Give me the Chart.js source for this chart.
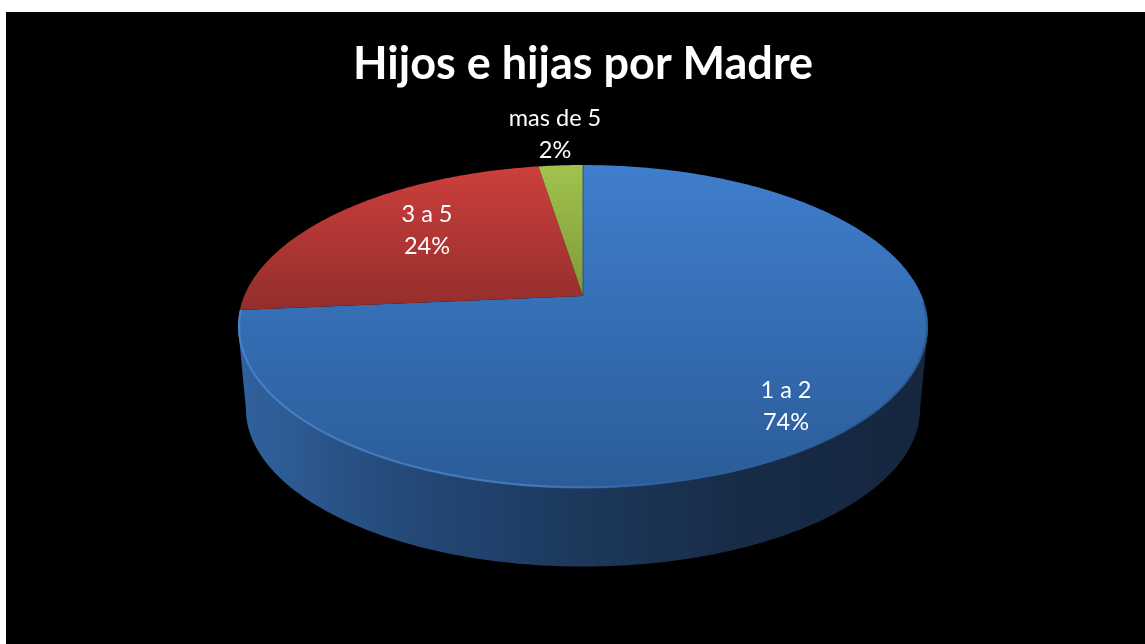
<!DOCTYPE html>
<html><head><meta charset="utf-8">
<style>html,body{margin:0;padding:0;background:#fff;overflow:hidden}
#wrap{position:absolute;left:6px;top:12px;width:1139px;height:632px;background:#000}</style>
<script src="https://cdn.jsdelivr.net/npm/chart.js@4"></script>
</head><body><div id="wrap"><canvas id="c" width="1139" height="632"></canvas></div>
<script>
const categories = ['1 a 2', '3 a 5', 'mas de 5'];
const values = [73.6, 23.91, 2.49];
const percentLabels = ['74%', '24%', '2%'];
const titleText = 'Hijos e hijas por Madre';
const topColors = ['#3f7ecc', '#cd3f3c', '#a0c34e'];
const bottomColors = ['#2b5c99', '#922e2c', '#7e993a'];
// label centres relative to the pie apex
const labelOffsets = [[203, 110], [-156, -66], [-28, -162]];

const TILT = 0.189, YRATIO = 155.7 / 338.8, DEPTH = 83, BOTTOM_SCALE = 0.977;
function project(arc, a, s, dy) {
  const w = 1 - TILT * Math.sin(a);
  return [arc.x + s * arc.outerRadius * Math.cos(a) / w,
          arc.y + dy + s * arc.outerRadius * YRATIO * Math.sin(a) / w];
}
function sectorPoints(arc, n) {
  const pts = [];
  for (let i = 0; i <= n; i++) {
    const a = arc.startAngle + (arc.endAngle - arc.startAngle) * i / n;
    pts.push(project(arc, a, 1, 0));
  }
  return pts;
}
const pseudo3d = {
  id: 'pseudo3d',
  beforeDatasetDraw(chart, args) {
    const ctx = chart.ctx, arcs = args.meta.data, first = arcs[0];
    const tan = Math.asin(TILT);
    const L = project(first, Math.PI - tan, 1, 0), R = project(first, tan, 1, 0);
    // side wall
    ctx.save();
    ctx.beginPath();
    for (let i = 0; i <= 200; i++) {
      const a = tan + (Math.PI - 2 * tan) * i / 200;
      const p = project(first, a, BOTTOM_SCALE, DEPTH);
      i ? ctx.lineTo(p[0], p[1]) : ctx.moveTo(p[0], p[1]);
    }
    ctx.lineTo(L[0], L[1]); ctx.lineTo(R[0], R[1]); ctx.closePath();
    const g = ctx.createLinearGradient(L[0], 0, R[0], 0);
    g.addColorStop(0, '#31619f'); g.addColorStop(0.08, '#2c5a92');
    g.addColorStop(0.2, '#264d7d'); g.addColorStop(0.38, '#1f4069');
    g.addColorStop(0.52, '#1b3759'); g.addColorStop(0.72, '#182c48');
    g.addColorStop(1, '#15263e');
    ctx.fillStyle = g; ctx.fill();
    // top faces
    arcs.forEach((arc, i) => {
      const n = Math.max(8, Math.ceil((arc.endAngle - arc.startAngle) * 80));
      const pts = sectorPoints(arc, n);
      const ys = pts.map(p => p[1]).concat(arc.y);
      const grad = ctx.createLinearGradient(0, Math.min(...ys), 0, Math.max(...ys));
      grad.addColorStop(0, topColors[i]); grad.addColorStop(1, bottomColors[i]);
      ctx.beginPath(); ctx.moveTo(arc.x, arc.y);
      pts.forEach(p => ctx.lineTo(p[0], p[1]));
      ctx.closePath(); ctx.fillStyle = grad; ctx.fill();
    });
    // thin divider on the top radial edge
    const e = project(first, first.startAngle, 1, 0);
    ctx.strokeStyle = 'rgba(30,70,120,0.8)'; ctx.lineWidth = 1;
    ctx.beginPath(); ctx.moveTo(first.x, first.y); ctx.lineTo(e[0], e[1]); ctx.stroke();
    // bevel highlight on the front rim
    const rim = ctx.createLinearGradient(L[0], 0, R[0], 0);
    rim.addColorStop(0, 'rgba(90,150,225,0.5)'); rim.addColorStop(0.45, 'rgba(90,150,225,0.5)');
    rim.addColorStop(0.65, 'rgba(70,120,190,0.12)'); rim.addColorStop(1, 'rgba(30,60,100,0.4)');
    ctx.strokeStyle = rim; ctx.lineWidth = 2.2; ctx.beginPath();
    for (let i = 0; i <= 200; i++) {
      const a = tan * 0.2 + (first.endAngle + 0 - tan * 0.2) * i / 200;
      const p = project(first, a, 0.997, 0);
      i ? ctx.lineTo(p[0], p[1]) : ctx.moveTo(p[0], p[1]);
    }
    ctx.stroke();
    ctx.restore();
    return false;
  },
  afterDatasetsDraw(chart) {
    const ctx = chart.ctx, arcs = chart.getDatasetMeta(0).data;
    ctx.save();
    ctx.fillStyle = '#fff'; ctx.textAlign = 'center'; ctx.textBaseline = 'middle';
    ctx.font = '23.5px Lato, Carlito, sans-serif';
    arcs.forEach((arc, i) => {
      const x = arc.x + labelOffsets[i][0], y = arc.y + labelOffsets[i][1];
      ctx.fillText(categories[i], x, y - 16);
      ctx.fillText(percentLabels[i], x, y + 16);
    });
    ctx.restore();
  }
};
new Chart(document.getElementById('c'), {
  type: 'pie',
  data: { labels: categories, datasets: [{ data: values, backgroundColor: topColors, borderWidth: 0, radius: 338.8 }] },
  options: {
    responsive: false, animation: false,
    layout: { padding: { left: 15, bottom: 143 } },
    plugins: {
      legend: { display: false }, tooltip: { enabled: false },
      title: { display: true, text: titleText, color: '#fff',
        font: { family: 'Lato, Carlito, sans-serif', size: 45, weight: 'bold', lineHeight: 1.2 },
        padding: { top: 25, bottom: 0 } }
    }
  },
  plugins: [pseudo3d]
});
</script></body></html>
